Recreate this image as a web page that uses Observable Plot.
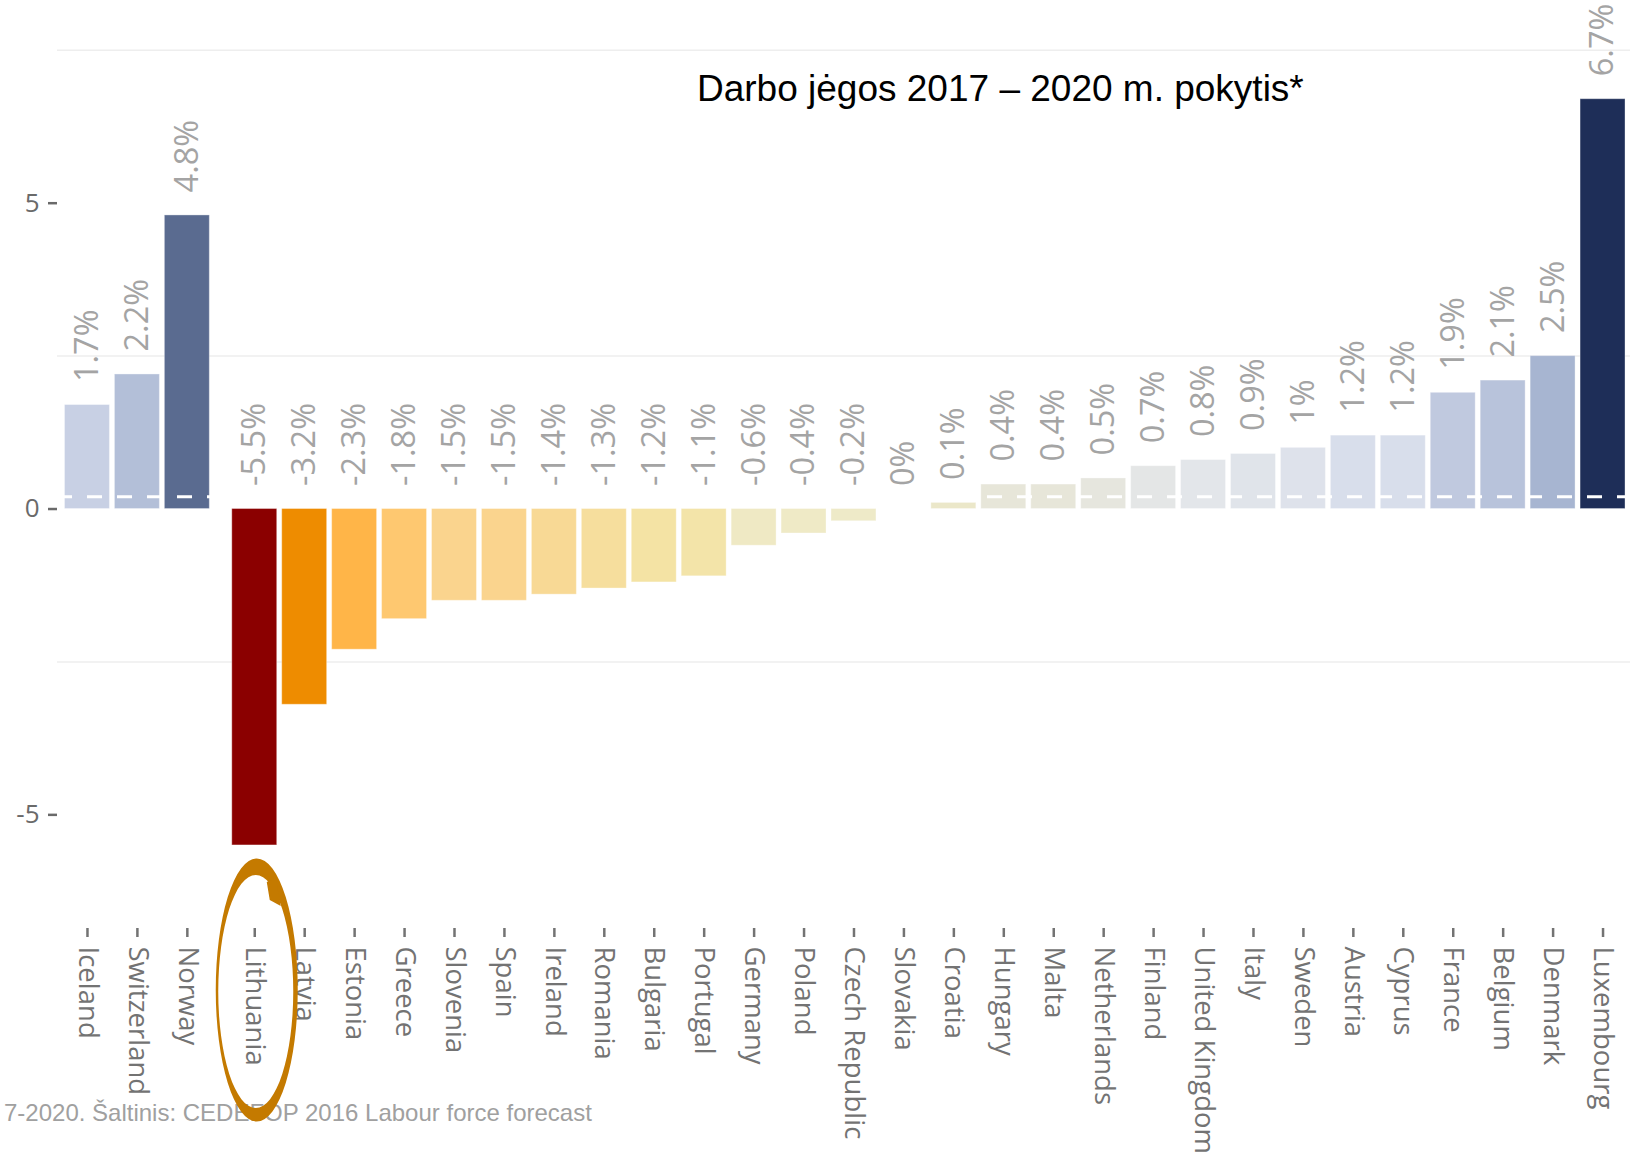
<!DOCTYPE html>
<html>
<head>
<meta charset="utf-8">
<script src="https://cdn.jsdelivr.net/npm/d3@7"></script>
<script src="https://cdn.jsdelivr.net/npm/@observablehq/plot@0.6"></script>
<style>
  html, body { margin: 0; padding: 0; background: #fff; }
  #wrap { position: relative; width: 1631px; height: 1153px; overflow: hidden; }
  #title { position: absolute; left: 697px; top: 70px; font-family: "Liberation Sans", Arial, sans-serif; font-size: 37px; line-height: 37px; color: #000; white-space: nowrap; }
  #caption { position: absolute; left: 4px; top: 1101px; font-family: "Liberation Sans", Arial, sans-serif; font-size: 24px; line-height: 24px; color: #a0a0a0; white-space: nowrap; }
  #chart { position: absolute; left: 0; top: 0; }
</style>
</head>
<body>
<div id="wrap">
  <div id="caption">7-2020. Šaltinis: CEDEFOP 2016 Labour force forecast</div>
  <div id="chart"></div>
  <div id="title">Darbo jėgos 2017 – 2020 m. pokytis*</div>
</div>
<script>
// ---- data ----
const countries = ["Iceland","Switzerland","Norway","Lithuania","Latvia","Estonia","Greece","Slovenia","Spain","Ireland","Romania","Bulgaria","Portugal","Germany","Poland","Czech Republic","Slovakia","Croatia","Hungary","Malta","Netherlands","Finland","United Kingdom","Italy","Sweden","Austria","Cyprus","France","Belgium","Denmark","Luxembourg"];
const groups = ["EEA","EEA","EEA","EU","EU","EU","EU","EU","EU","EU","EU","EU","EU","EU","EU","EU","EU","EU","EU","EU","EU","EU","EU","EU","EU","EU","EU","EU","EU","EU","EU"];
const changes = [1.7,2.2,4.8,-5.5,-3.2,-2.3,-1.8,-1.5,-1.5,-1.4,-1.3,-1.2,-1.1,-0.6,-0.4,-0.2,0,0.1,0.4,0.4,0.5,0.7,0.8,0.9,1,1.2,1.2,1.9,2.1,2.5,6.7];
const average = [0.2];
const yTicks = [-5, 0, 5];
const gridValues = [-2.5, 2.5, 7.5];
const highlighted = "Lithuania";

// colour scale stops (value -> colour)
const colorDomain = [-5.5, -3.2, -2.3, -1.8, -1.5, -1.2, -0.6, -0.2, 0.1, 0.5, 0.8, 1.2, 1.7, 2.5, 4.8, 6.7];
const colorRange  = ["#8b0000","#ee8c00","#ffb548","#fec870","#fad48e","#f4e3a4","#efe9c4","#eeeac8","#ebe7c9","#e6e6de","#e3e6ea","#d8deeb","#c8d0e4","#a7b5d1","#5a6b90","#1e2e58"];

// ---- build table ----
const groupGap = 0.35;
const data = countries.map((c, i) => ({
  country: c,
  value: changes[i],
  pos: i + (groups[i] === groups[0] ? 0 : groupGap)
}));
const nameByPos = new Map(data.map(d => [d.pos, d.country]));
const positions = data.map(d => d.pos);

const W = 1631, H = 1153;
const plot = Plot.plot({
  width: W,
  height: H,
  marginLeft: 57,
  marginRight: 1,
  marginTop: 0,
  marginBottom: 225,
  style: { fontFamily: "'Open Sans', sans-serif", background: "transparent", overflow: "visible" },
  x: { type: "linear", domain: [-0.6, 30.9] },
  y: { domain: [-6.858, 8.314] },
  color: { type: "linear", domain: colorDomain, range: colorRange, interpolate: "rgb" },
  marks: [
    Plot.ruleY(gridValues, { stroke: "#eeeeee", strokeWidth: 1.5 }),
    Plot.rectY(data, {
      x1: d => d.pos - 0.45, x2: d => d.pos + 0.45,
      y1: 0, y2: "value",
      fill: "value",
      stroke: "white", strokeOpacity: 0.35, strokeWidth: 1
    }),
    Plot.ruleY(average, { stroke: "white", strokeWidth: 3, strokeDasharray: "15,15" }),
    Plot.text(data, {
      x: "pos",
      y: d => Math.max(d.value, 0),
      text: d => `${d.value}%`,
      rotate: -90,
      textAnchor: "start",
      dy: -23,
      fontSize: 32.5,
      fontWeight: 400,
      fill: "#a4a4a4"
    }),
    Plot.axisY({
      ticks: yTicks, tickFormat: d => String(d),
      tickSize: 9, tickPadding: 9, fontSize: 26,
      color: "#6a6a6a", strokeWidth: 2.5, label: null
    }),
    Plot.axisX({
      ticks: positions, tickFormat: d => nameByPos.get(d),
      tickRotate: 90, tickSize: 9, tickPadding: 9, fontSize: 27.5,
      color: "#737373", strokeWidth: 2.5, label: null
    })
  ]
});
document.getElementById("chart").appendChild(plot);

// hand-drawn highlight around the Lithuania label (annotation)
const sx = plot.scale("x");
const hPos = data.find(d => d.country === highlighted).pos;
const cx = sx.apply(hPos) + 2.5;
const cy = 990;
const ell = (x, y, rx, ry) => `M${x - rx},${y}a${rx},${ry} 0 1,0 ${2 * rx},0a${rx},${ry} 0 1,0 ${-2 * rx},0Z`;
d3.select(plot).append("path")
  .attr("d", ell(cx, cy, 41, 131.5) + ell(cx - 1, cy + 1.5, 37.5, 116.5))
  .attr("fill", "#c47a00")
  .attr("fill-rule", "evenodd");
d3.select(plot).append("path")
  .attr("d", `M${cx + 10},${cy - 108} L${cx + 19},${cy - 112} L${cx + 24},${cy - 84} L${cx + 13},${cy - 90} Z`)
  .attr("fill", "#c47a00");
</script>
</body>
</html>
